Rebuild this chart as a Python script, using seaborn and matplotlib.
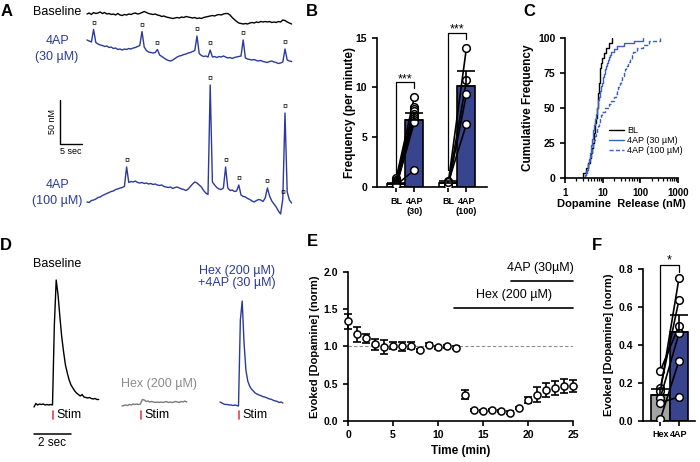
import numpy as np
import pandas as pd
import seaborn as sns
import matplotlib
matplotlib.use("Agg")
import matplotlib.pyplot as plt
from matplotlib.ticker import LogLocator, NullFormatter, FormatStrFormatter

# ---------------- data ----------------
# A: spontaneous release traces (nM, relative to first sample), 0.5 s samples
baseline_trace = [0, 1, -0.5, 1.5, 0.5, 1, 2, 0.5, 1.5, 0, 0.5, -0.5, 0, -1, 0.5, -1, -1.5, -0.5, -1, 0,
                  -0.5, 0.5, 1, 0, 0.5, 1.5, 2.5, 1.5, 0.5, 0, -0.5, 0, -1, -1.5, -2.5, -2, -3, -3.5, -4, -4.5,
                  -4, -3.5, -4, -3, -3.5, -2.5, -3, -3.5, -4, -3.5, -4.5, -4, -4.5, -3.5, -3, -2.5, -2, -1.5, -2, -1,
                  -0.5, -1, 0, 0.5, 0.5, -1, -3.5, -5.5, -7.5, -9, -9.5, -10, -9.5, -10, -9, -8.5, -9, -8, -8.5, -7.5,
                  -8, -7.5, -8, -7.5, -8.5, -8, -8.5, -7.5, -8, -6, -6.5, -8, -9, -10]
ap30_trace = [0, -1, -2, 10.5, -2.5, -4, -5, -5.5, -6.5, -6, -7.5, -7, -8.5, -8, -9.5, -9, -10, -9, -9.5, -8.5,
              -9, -8, -7.5, -6.5, -5.5, 8.5, -7, -10.5, -12, -12.5, -13, -12.5, -9.5, -15, -16.5, -18, -19.5, -20.5, -21, -20,
              -18.5, -17, -16, -15.5, -14.5, -14, -13, -12.5, -11.5, -10.5, 4, -13.5, -15.5, -16.5, -16, -17, -10, -17, -16.5, -17.5,
              -16.5, -17, -16, -17, -18, -17.5, -18.5, -17.5, -17, -16.5, -16, 0, -18, -19, -19.5, -20, -19.5, -20.5, -21, -20.5,
              -21.5, -22, -22.5, -21.5, -21, -22, -22.5, -23.5, -23, -22, -9, -20, -21, -21.5]
ap100_trace = [0, -0.5, 1.5, 2, 3, 4.5, 5, 6.5, 7.5, 8.5, 9.5, 10.5, 11, 12.5, 13, 14, 14.5, 15.5, 35, 19.5,
               20.5, 20, 21, 19.5, 19, 19.5, 18.5, 19, 18, 18.5, 17.5, 18, 17, 16.5, 17, 15.5, 15, 14.5, 15, 13.5,
               14.5, 15, 14, 13, 12.5, 11.5, 13, 15.5, 18, 20, 19, 17, 15, 11.5, 9, 7.5, 117, 20, 17, 14.5,
               13, 12.5, 14, 35, 14, 11.5, 12, 10.5, 11, 17, 7, 5.5, 5, 3.5, 2.5, 1, 0, 1.5, 2.5, 2,
               0.5, 4, 14, 6, 1, -2, -5, -9, -12, 3, 89, 10, 2, -1]
ap30_events = [3, 25, 32, 50, 56, 71, 90]
ap100_events = [18, 56, 63, 69, 82, 89, 90]

# B: event frequency (per minute)
B_groups = ["BL30", "AP30", "BL100", "AP100"]
B_pos = [0, 1, 2.9, 3.9]
B_ticklabels = ["BL", "4AP\n(30)", "BL", "4AP\n(100)"]
B_mean = [0.35, 6.75, 0.45, 10.15]
B_sem = [0.1, 0.7, 0.15, 1.55]
B_bl30 = [0.9, 0.75, 0.6, 0.5, 0.4, 0.3, 0.2, 0.15, 0.05, 0.2]
B_ap30 = [9.0, 8.0, 7.8, 7.6, 7.3, 7.1, 6.9, 6.7, 6.5, 1.7]
B_bl100 = [0.6, 0.4, 0.15, 0.5]
B_ap100 = [14.0, 10.7, 9.35, 6.35]

# C: event amplitudes (nM)
C_bl = [3.0, 3.6, 4.1, 4.5, 4.9, 5.2, 5.5, 5.8, 6.0, 6.2, 6.4, 6.6, 6.9, 7.1, 7.3, 7.5, 7.7, 7.9, 8.1, 8.3,
        8.5, 8.6, 9.0, 9.5, 11.0, 12.5, 14.3, 17.5]
C_ap30 = [3.4, 3.65, 3.85, 4.0, 4.15, 4.3, 4.45, 4.6, 4.7, 4.8, 4.9, 5.0, 5.1, 5.2, 5.4, 5.6, 5.7, 5.9, 6.05, 6.2,
          6.4, 6.6, 6.8, 7.0, 7.2, 7.35, 7.5, 7.7, 8.0, 8.3, 8.7, 9.0, 9.3, 9.7, 10.1, 10.5, 10.8, 11.2, 11.5, 12.0,
          12.8, 13.6, 14.5, 15.4, 17.0, 19.5, 24, 37, 67, 120]
C_ap100 = [3.3, 3.7, 3.95, 4.2, 4.4, 4.6, 4.85, 5.1, 5.3, 5.5, 5.75, 6.2, 6.7, 7.2, 7.6, 8.0, 8.4, 8.9, 9.8, 11.5,
           14.5, 17, 19.5, 22, 23.8, 25.5, 28, 31, 33, 36, 38.5, 41, 47, 54, 59, 64, 80, 120, 165, 330]

# D: evoked traces (0.1 s samples)
D_baseline = [-2, 1.5, 0, 1, 0.5, 1, 0, 0.5, 0, 0.5, 0, 80, 125, 110, 88, 68, 53, 40, 32, 25,
              20, 17, 14, 12, 10.5, 9, 10.5, 8, 7.5, 7, 7.5, 6.5, 6, 6.5, 5.5, 5.5]
D_hex = [-1, -0.5, 0, -0.5, 0.5, 0, 1, 0.5, 1, 0.5, 1, 5.5, 5, 3.5, 4, 3, 3.5, 3, 2.5, 3,
         2.5, 3, 2.5, 3, 3.5, 2.5, 3, 2.5, 3, 3.5, 3, 2.5, 3.5, 3, 4, 3]
D_hex4ap = [3, 2, 1, 0.5, 0.5, 0, 0, -0.5, 0, -0.5, -1, 85, 104, 62, 35, 24, 19, 16, 14, 12,
            11, 10, 9.5, 8.5, 8, 7.5, 6.5, 6, 5.5, 4.5, 4, 3.5, 2.5, 3, 2]

# E: time course
E_time = [0, 1, 2, 3, 4, 5, 6, 7, 8, 9, 10, 11, 12, 13, 14, 15, 16, 17, 18, 19, 20, 21, 22, 23, 24, 25]
E_mean = [1.34, 1.16, 1.11, 1.03, 0.99, 1.01, 1.00, 1.01, 0.95, 1.02, 0.99, 1.00, 0.98, 0.35, 0.14, 0.13,
          0.14, 0.13, 0.11, 0.17, 0.28, 0.35, 0.41, 0.44, 0.47, 0.47]
E_sem = [0.10, 0.10, 0.06, 0.075, 0.095, 0.045, 0.065, 0.045, 0.02, 0.02, 0.02, 0.02, 0.02, 0.06, 0.015, 0.015,
         0.015, 0.015, 0.015, 0.015, 0.045, 0.1, 0.095, 0.1, 0.095, 0.08]

# F: Hex vs Hex+4AP
F_groups = ["Hex", "4AP"]
F_mean = [0.135, 0.465]
F_sem = [0.032, 0.09]
F_hex = [0.263, 0.17, 0.155, 0.12, 0.095, 0.007]
F_4ap = [0.50, 0.635, 0.75, 0.46, 0.125, 0.315]

# ---------------- style ----------------
BLUE = "#2b3a9c"
BLUE_C = "#3b5fc0"
GRAY = "#a3a3a3"
RED = "#e8505b"

sns.set_style("ticks", {"axes.edgecolor": "black", "xtick.color": "black",
                        "ytick.color": "black", "text.color": "black", "axes.labelcolor": "black"})
plt.rcParams["font.family"] = ["Liberation Sans", "DejaVu Sans"]
plt.rcParams["axes.linewidth"] = 1.2
plt.rcParams["xtick.major.width"] = 1.2
plt.rcParams["ytick.major.width"] = 1.2
plt.rcParams["xtick.major.size"] = 3.5
plt.rcParams["ytick.major.size"] = 3.5

W, H = 700, 462
fig = plt.figure(figsize=(7, 4.62), dpi=100)


def px_axes(left, top, right, bottom):
    return fig.add_axes([left / W, 1 - bottom / H, (right - left) / W, (bottom - top) / H])


def bold_ticks(ax, fs_x, fs_y):
    for lab in ax.get_xticklabels():
        lab.set_fontweight("bold")
        lab.set_fontsize(fs_x)
    for lab in ax.get_yticklabels():
        lab.set_fontweight("bold")
        lab.set_fontsize(fs_y)
    sns.despine(ax=ax)


def paired(ax, xa, xb, ya, yb):
    rows = []
    for i, (a, b) in enumerate(zip(ya, yb)):
        rows.append({"pair": i, "x": xa, "y": a})
        rows.append({"pair": i, "x": xb, "y": b})
    df = pd.DataFrame(rows)
    sns.lineplot(data=df, x="x", y="y", units="pair", estimator=None, color="black", lw=1.2,
                 marker="o", markersize=5.5, markerfacecolor="white", markeredgecolor="black",
                 markeredgewidth=1.1, ax=ax, zorder=3, sort=False)


# ---------------- A ----------------
axA = px_axes(0, 0, 300, 235)
axA.set_axis_off()
dtA = 0.5
tA = np.arange(len(baseline_trace)) * dtA
axA.set_xlim(-87 / 4.4, 213 / 4.4)
axA.set_ylim(0, 235)
for vals, off, col, events in [(baseline_trace, 221, "black", []),
                               (ap30_trace, 195, BLUE, ap30_events),
                               (ap100_trace, 33, BLUE, ap100_events)]:
    v = np.array(vals) + off
    sns.lineplot(x=tA, y=v, ax=axA, color=col, lw=1.0)
    for idx in events:
        axA.text(tA[idx], v[idx] + 6, "¤", ha="center", va="center", fontsize=6.5)
axA.text(-1.3, 223, "Baseline", ha="right", va="center", fontsize=9)
axA.text(-6.8, 186, "4AP\n(30 µM)", ha="center", va="center", fontsize=9, color=BLUE, linespacing=1.35)
axA.text(-6.8, 42, "4AP\n(100 µM)", ha="center", va="center", fontsize=9, color=BLUE, linespacing=1.35)
sx0 = (60 - 87) / 4.4
axA.plot([sx0, sx0, sx0 + 5], [135, 91, 91], color="black", lw=1)
axA.text(sx0 - 1.8, 113, "50 nM", rotation=90, ha="center", va="center", fontsize=6.5)
axA.text(sx0 + 2.5, 83, "5 sec", ha="center", va="center", fontsize=6.5)

# ---------------- B ----------------
axB = px_axes(377, 37.7, 487, 187)
sns.barplot(x=B_pos, y=B_mean, hue=B_groups, palette=["white", BLUE, "white", BLUE],
            native_scale=True, width=1.0, dodge=False, legend=False, errorbar=None,
            edgecolor="black", linewidth=1.2, ax=axB)
axB.errorbar(B_pos, B_mean, yerr=[np.zeros(len(B_sem)), B_sem], fmt="none", ecolor="black",
             elinewidth=1.2, capsize=6.5, capthick=1.2, zorder=4)
paired(axB, B_pos[0], B_pos[1], B_bl30, B_ap30)
paired(axB, B_pos[2], B_pos[3], B_bl100, B_ap100)
axB.plot([0, 0, 1, 1], [1.0, 10.5, 10.5, 9.95], color="black", lw=0.9, clip_on=False)
axB.text(0.5, 10.85, "***", ha="center", va="center", fontsize=9)
axB.plot([2.9, 2.9, 3.9, 3.9], [1.7, 15.5, 15.5, 14.9], color="black", lw=0.9, clip_on=False)
axB.text(3.4, 15.85, "***", ha="center", va="center", fontsize=9)
axB.set_xlim(-1.07, 5.04)
axB.set_ylim(0, 15)
axB.set_yticks([0, 5, 10, 15])
axB.set_xticks(B_pos)
axB.set_xticklabels(B_ticklabels)
axB.set_xlabel("")
axB.set_ylabel("Frequency (per minute)", fontsize=8.5, fontweight="bold", labelpad=0)
bold_ticks(axB, 6.5, 7.5)

# ---------------- C ----------------
axC = px_axes(565, 37.7, 678, 178.3)
sns.ecdfplot(x=C_bl, stat="percent", log_scale=True, ax=axC, color="black", lw=1.0, label="BL")
sns.ecdfplot(x=C_ap30, stat="percent", log_scale=True, ax=axC, color=BLUE_C, lw=1.0, label="4AP (30 µM)")
sns.ecdfplot(x=C_ap100, stat="percent", log_scale=True, ax=axC, color=BLUE_C, lw=1.0,
             ls=(0, (3, 1.6)), label="4AP (100 µM)")
axC.set_xlim(1, 1000)
axC.set_ylim(0, 100)
axC.set_yticks([0, 25, 50, 75, 100])
axC.set_xticks([1, 10, 100, 1000])
axC.set_xticklabels(["1", "10", "100", "1000"])
axC.xaxis.set_minor_locator(LogLocator(base=10, subs=np.arange(2, 10)))
axC.xaxis.set_minor_formatter(NullFormatter())
axC.tick_params(axis="x", which="minor", length=2.5, width=0.9)
axC.set_xlabel("Dopamine  Release (nM)", fontsize=8, fontweight="bold", labelpad=1)
axC.set_ylabel("Cumulative Frequency", fontsize=8.5, fontweight="bold", labelpad=3)
axC.legend(frameon=False, fontsize=6.5, handlelength=1.6, loc="upper left",
           bbox_to_anchor=(0.36, 0.4), labelspacing=0.15, handletextpad=0.4, borderaxespad=0)
bold_ticks(axC, 7, 7.5)

# ---------------- D ----------------
axD = px_axes(0, 240, 300, 462)
axD.set_axis_off()
axD.set_xlim(-34 / 18.5, 266 / 18.5)
axD.set_ylim(-57, 165)
dtD = 0.1
stim_delay = 1.03
for vals, start, col in [(D_baseline, 0.0, "black"), (D_hex, 4.757, "#7a7a7a"), (D_hex4ap, 10.054, BLUE)]:
    t = start + np.arange(len(vals)) * dtD
    sns.lineplot(x=t, y=vals, ax=axD, color=col, lw=1.0)
    s = start + stim_delay
    axD.plot([s, s], [-6, -14], color=RED, lw=1.3)
    axD.text(s + 0.17, -10, "Stim", ha="left", va="center", fontsize=9)
axD.text(1.24, 141, "Baseline", ha="center", va="center", fontsize=9)
axD.text(6.76, 21, "Hex (200 µM)", ha="center", va="center", fontsize=9, color="#8c8c8c")
axD.text(10.97, 128, "Hex (200 µM)\n+4AP (30 µM)", ha="center", va="center", fontsize=9,
         color=BLUE, linespacing=1.1)
axD.plot([0, 2], [-29, -29], color="black", lw=1.1)
axD.text(1.0, -38, "2 sec", ha="center", va="center", fontsize=8.5)

# ---------------- E ----------------
axE = px_axes(348, 272, 573, 420.7)
axE.axhline(1.0, color="#8c8c8c", ls=(0, (3, 2)), lw=0.8, zorder=1)
axE.errorbar(E_time, E_mean, yerr=E_sem, fmt="none", ecolor="black", elinewidth=1.2,
             capsize=2.6, capthick=1.2, zorder=3, clip_on=False)
sns.scatterplot(x=E_time, y=E_mean, ax=axE, s=26, color="white", edgecolor="black",
                linewidth=1.1, zorder=4, clip_on=False)
axE.plot([11.8, 25], [1.51, 1.51], color="black", lw=1.2, clip_on=False)
axE.text(18.4, 1.69, "Hex (200 µM)", ha="center", va="center", fontsize=9)
axE.plot([18.1, 25], [1.88, 1.88], color="black", lw=1.2, clip_on=False)
axE.text(21.4, 2.06, "4AP (30µM)", ha="center", va="center", fontsize=9)
axE.set_xlim(0, 25)
axE.set_ylim(0, 2.0)
axE.set_xticks([0, 5, 10, 15, 20, 25])
axE.set_yticks([0, 0.5, 1.0, 1.5, 2.0])
axE.yaxis.set_major_formatter(FormatStrFormatter("%.1f"))
axE.set_xlabel("Time (min)", fontsize=8.5, fontweight="bold", labelpad=3)
axE.set_ylabel("Evoked [Dopamine] (norm)", fontsize=8, fontweight="bold", labelpad=3)
bold_ticks(axE, 7.5, 7.5)

# ---------------- F ----------------
axF = px_axes(643, 268.7, 695, 420.7)
sns.barplot(x=F_groups, y=F_mean, hue=F_groups, palette=[GRAY, BLUE], width=1.0, legend=False,
            errorbar=None, edgecolor="black", linewidth=1.2, ax=axF)
axF.errorbar([0, 1], F_mean, yerr=[np.zeros(2), F_sem], fmt="none", ecolor="black",
             elinewidth=1.2, capsize=6.5, capthick=1.2, zorder=4)
paired(axF, 0, 1, F_hex, F_4ap)
axF.plot([0, 0, 1, 1], [0.28, 0.82, 0.82, 0.785], color="black", lw=0.9, clip_on=False)
axF.text(0.5, 0.845, "*", ha="center", va="center", fontsize=9)
axF.set_xlim(-0.93, 1.86)
axF.set_ylim(0, 0.8)
axF.set_xticks([0, 1])
axF.set_xticklabels(F_groups)
axF.set_yticks([0, 0.2, 0.4, 0.6, 0.8])
axF.yaxis.set_major_formatter(FormatStrFormatter("%.1f"))
axF.set_xlabel("")
axF.set_ylabel("Evoked [Dopamine] (norm)", fontsize=8, fontweight="bold", labelpad=3)
bold_ticks(axF, 6.5, 7.5)

# ---------------- panel letters ----------------
for letter, x, y in [("A", 7, 12), ("B", 312, 12), ("C", 529, 12),
                     ("D", 6, 246), ("E", 312, 241), ("F", 597, 246)]:
    fig.text(x / W, 1 - y / H, letter, fontsize=12, fontweight="bold", ha="center", va="center")

fig.savefig("out.png", dpi=100)
